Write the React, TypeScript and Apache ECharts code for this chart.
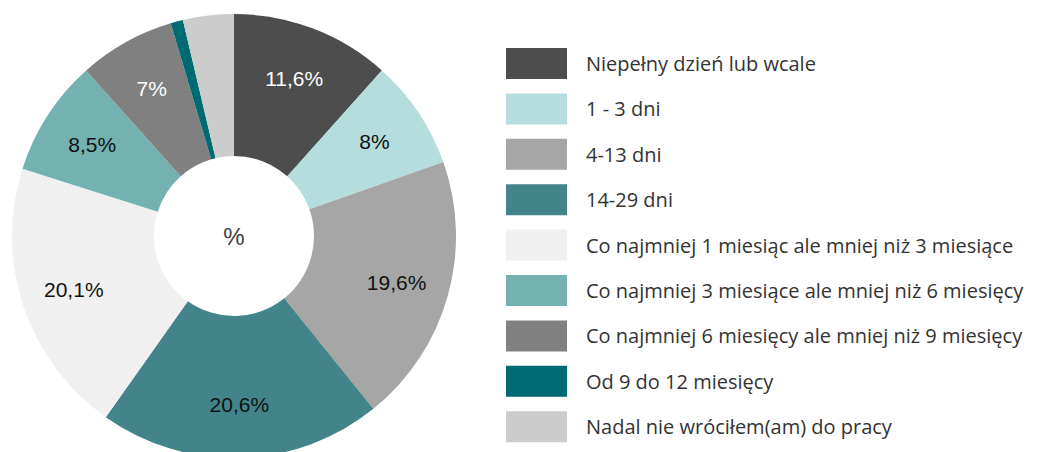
import React, { useEffect, useRef } from "react";
import * as echarts from "echarts";

const categories = [
  "Niepełny dzień lub wcale",
  "1 - 3 dni",
  "4-13 dni",
  "14-29 dni",
  "Co najmniej 1 miesiąc ale mniej niż 3 miesiące",
  "Co najmniej 3 miesiące ale mniej niż 6 miesięcy",
  "Co najmniej 6 miesięcy ale mniej niż 9 miesięcy",
  "Od 9 do 12 miesięcy",
  "Nadal nie wróciłem(am) do pracy",
];
const values = [11.6, 8, 19.6, 20.6, 20.1, 8.5, 7, 0.9, 3.7];
const labels = ["11,6%", "8%", "19,6%", "20,6%", "20,1%", "8,5%", "7%", "", ""];
const colors = [
  "#4d4d4d",
  "#b5dddd",
  "#a6a6a6",
  "#428489",
  "#f0f0f0",
  "#74b1b1",
  "#808080",
  "#006a72",
  "#cccccc",
];
const labelColors = ["#ffffff", "#111111", "#111111", "#111111", "#111111", "#111111", "#ffffff", "#111111", "#111111"];

export default function App() {
  const ref = useRef<HTMLDivElement>(null);
  useEffect(() => {
    if (!ref.current) return;
    const chart = echarts.init(ref.current, null, { renderer: "svg" });
    const center = [234, 236];
    chart.setOption({
      animation: false,
      backgroundColor: "#ffffff",
      color: colors,
      legend: {
        orient: "vertical",
        left: 501,
        top: 43,
        itemWidth: 61,
        itemHeight: 31,
        itemGap: 14.4,
        icon: "rect",
        selectedMode: false,
        data: categories,
        textStyle: {
          fontFamily: "Open Sans",
          fontSize: 20,
          color: "#333333",
          padding: [0, 0, 0, 14],
        },
        itemStyle: { borderWidth: 0 },
      },
      series: [
        {
          type: "pie",
          center,
          radius: [80, 222],
          startAngle: 90,
          clockwise: true,
          avoidLabelOverlap: false,
          label: { show: false },
          labelLine: { show: false },
          itemStyle: { borderWidth: 0 },
          emphasis: { disabled: true },
          data: categories.map((name, i) => ({ name, value: values[i] })),
        },
        {
          type: "pie",
          center,
          radius: [110, 222],
          startAngle: 90,
          clockwise: true,
          silent: true,
          legendHoverLink: false,
          avoidLabelOverlap: false,
          itemStyle: { color: "rgba(0,0,0,0)", borderWidth: 0 },
          labelLine: { show: false },
          emphasis: { disabled: true },
          data: categories.map((name, i) => ({
            name: "lbl" + i,
            value: values[i],
            label: {
              show: labels[i] !== "",
              position: "inside",
              formatter: labels[i],
              color: labelColors[i],
              fontFamily: "Liberation Sans",
              fontSize: 21,
            },
          })),
        },
      ],
      graphic: [
        {
          type: "text",
          x: center[0],
          y: center[1],
          style: {
            text: "%",
            fontFamily: "Liberation Sans",
            fontSize: 24,
            fill: "#404040",
            align: "center",
            verticalAlign: "middle",
          },
        },
      ],
    });
    return () => chart.dispose();
  }, []);
  return (
    <div
      ref={ref}
      style={{ position: "fixed", left: 0, top: 0, width: 1039, height: 452 }}
    />
  );
}
